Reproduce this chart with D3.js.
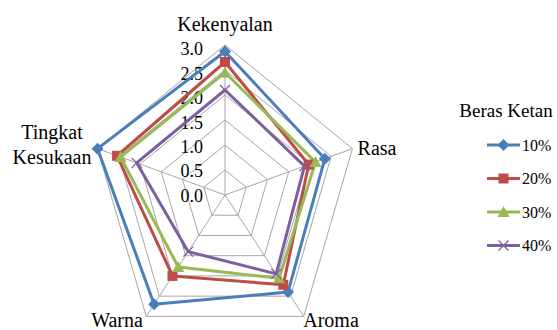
<!DOCTYPE html>
<html>
<head>
<meta charset="utf-8">
<script src="https://cdn.jsdelivr.net/npm/d3@7"></script>
<style>
  html, body { margin: 0; padding: 0; background: #fff; }
  svg { display: block; }
</style>
</head>
<body>
<svg id="chart" width="557" height="330"></svg>
<script>
// Radar chart: sensory scores by share of glutinous rice flour
const categories = ["Kekenyalan", "Rasa", "Aroma", "Warna", "Tingkat Kesukaan"];
const seriesNames = ["10%", "20%", "30%", "40%"];
const values10 = [2.87, 2.35, 2.40, 2.70, 3.00];
const values20 = [2.66, 1.97, 2.22, 2.00, 2.54];
const values30 = [2.45, 2.13, 2.06, 1.78, 2.46];
const values40 = [2.10, 1.87, 1.95, 1.40, 2.08];
const tickValues = [0, 0.5, 1, 1.5, 2, 2.5, 3];
const legendTitle = "Beras Ketan";

const seriesValues = [values10, values20, values30, values40];
const colors = ["#4A7EBB", "#BE4B48", "#98B954", "#7D5FA0"];
const symbols = ["diamond", "square", "triangle", "cross"];
const FONT = "'Liberation Serif', 'DejaVu Serif', serif";

const svg = d3.select("#chart").attr("font-family", FONT);
const cx = 225, cy = 195;
const rx = 134, ry = 150;

const angle = d3.scaleLinear().domain([0, categories.length]).range([0, 2 * Math.PI]);
const r = d3.scaleLinear().domain([0, 3]).range([0, 1]);

function pt(i, v) {
  const a = angle(i);
  return [cx + rx * r(v) * Math.sin(a), cy - ry * r(v) * Math.cos(a)];
}

const gGrid = svg.append("g");
// concentric rings
tickValues.slice(1).forEach(t => {
  const ring = categories.map((c, i) => pt(i, t));
  gGrid.append("path")
    .attr("d", d3.line().curve(d3.curveLinearClosed)(ring))
    .attr("fill", "none").attr("stroke", "#a6a6a6").attr("stroke-width", 1);
});
// spokes
categories.forEach((c, i) => {
  const [x, y] = pt(i, 3);
  gGrid.append("line").attr("x1", cx).attr("y1", cy).attr("x2", x).attr("y2", y)
    .attr("stroke", "#a6a6a6").attr("stroke-width", 1);
});

// value axis labels
const labelY = d3.scaleLinear().domain([0, 3]).range([cy + 0.5, 49]);
svg.append("g").selectAll("text").data(tickValues).join("text")
  .attr("font-family", FONT)
  .attr("x", 203).attr("y", d => labelY(d))
  .attr("dy", "0.35em")
  .attr("text-anchor", "end")
  .attr("font-size", 18)
  .text(d => d3.format(".1f")(d));

// series polygons
const line = d3.line().curve(d3.curveLinearClosed);
const gSeries = svg.append("g");
seriesValues.forEach((vals, s) => {
  const pts = vals.map((v, i) => pt(i, v));
  gSeries.append("path").attr("d", line(pts))
    .attr("fill", "none").attr("stroke", colors[s]).attr("stroke-width", 3)
    .attr("stroke-linejoin", "round");
});

function drawMarker(g, kind, x, y, color) {
  if (kind === "diamond") {
    g.append("path").attr("d", `M${x},${y - 6}L${x + 6},${y}L${x},${y + 6}L${x - 6},${y}Z`).attr("fill", color);
  } else if (kind === "square") {
    g.append("rect").attr("x", x - 5).attr("y", y - 5).attr("width", 10).attr("height", 10).attr("fill", color);
  } else if (kind === "triangle") {
    g.append("path").attr("d", `M${x},${y - 6}L${x + 6},${y + 5}L${x - 6},${y + 5}Z`).attr("fill", color);
  } else {
    g.append("path").attr("d", `M${x - 5},${y - 5}L${x + 5},${y + 5}M${x - 5},${y + 5}L${x + 5},${y - 5}`)
      .attr("stroke", color).attr("stroke-width", 1.3).attr("fill", "none");
  }
}

seriesValues.forEach((vals, s) => {
  vals.forEach((v, i) => {
    const [x, y] = pt(i, v);
    drawMarker(gSeries, symbols[s], x, y, colors[s]);
  });
});

// category labels
const catLabels = [
  { lines: ["Kekenyalan"], x: 225, y: 31 },
  { lines: ["Rasa"], x: 377, y: 155 },
  { lines: ["Aroma"], x: 331, y: 327 },
  { lines: ["Warna"], x: 117, y: 327 },
  { lines: ["Tingkat", "Kesukaan"], x: 52, y: 139 }
];
catLabels.forEach(l => {
  const t = svg.append("text").attr("font-family", FONT).attr("text-anchor", "middle")
    .attr("font-size", 20).attr("x", l.x).attr("y", l.y);
  l.lines.forEach((s, k) => {
    t.append("tspan").attr("x", l.x).attr("dy", k === 0 ? 0 : 25).text(s);
  });
});

// legend
svg.append("text").attr("font-family", FONT).attr("x", 506).attr("y", 117)
  .attr("text-anchor", "middle").attr("font-size", 19).text(legendTitle);
const legendY = d3.scalePoint().domain(seriesNames).range([145, 245.5]);
seriesNames.forEach((n, s) => {
  const y = legendY(n);
  svg.append("line").attr("x1", 487).attr("x2", 520).attr("y1", y).attr("y2", y)
    .attr("stroke", colors[s]).attr("stroke-width", 3);
  drawMarker(svg, symbols[s], 503.5, y, colors[s]);
  svg.append("text").attr("font-family", FONT).attr("x", 522).attr("y", y).attr("dy", "0.35em")
    .attr("font-size", 16).text(n);
});
</script>
</body>
</html>
